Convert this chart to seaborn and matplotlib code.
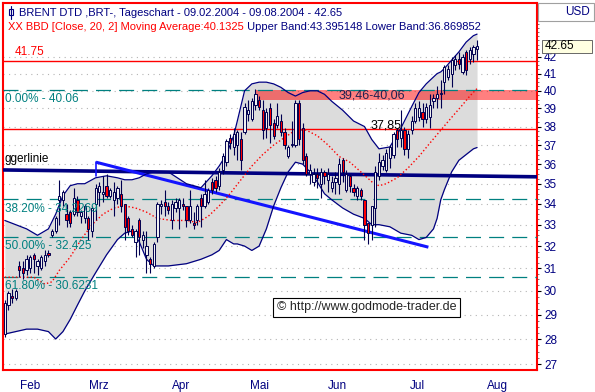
import numpy as np
import pandas as pd
import matplotlib
matplotlib.use('Agg')
import matplotlib.pyplot as plt
import seaborn as sns
from matplotlib.lines import Line2D
from matplotlib.patches import Rectangle
from matplotlib.ticker import FixedLocator, NullFormatter

# Trading days on the x axis (candles are placed by day index, no weekend gaps)
days = pd.bdate_range('2004-02-09', '2004-08-31')

# Daily candles 09.02.2004 - 09.08.2004
opens = [28.2, 29.4, 29.8, 29.7, 31.1, 31.0, 30.9, 31.0, 31.6, 31.1,
         31.0, 31.3, 31.7, 32.5, 32.7, 34.2, 34.2, 33.5, 33.6, 33.5,
         34.2, 33.4, 33.3, 33.3, 32.7, 34.0, 34.6, 34.5, 34.9, 34.4,
         34.2, 34.3, 34.5, 34.0, 33.3, 32.8, 32.2, 33.2, 32.3, 31.6,
         31.4, 31.1, 32.4, 33.9, 34.1, 33.9, 33.2, 33.8, 33.8, 34.0,
         33.9, 33.2, 33.1, 33.2, 34.3, 33.9, 34.1, 35.1, 35.2, 34.9,
         35.7, 36.1, 37.4, 36.9, 37.0, 37.3, 37.7, 38.7, 38.4, 39.2,
         39.5, 38.9, 37.9, 39.0, 38.2, 38.1, 38.3, 37.7, 36.4, 37.0,
         37.0, 39.3, 37.9, 36.4, 35.5, 35.1, 35.5, 35.0, 35.6, 35.2,
         34.8, 35.1, 35.0, 36.2, 34.7, 35.4, 34.8, 34.4, 34.7, 34.2,
         33.1, 33.0, 33.8, 35.4, 35.9, 35.7, 36.3, 36.5, 37.8, 37.4,
         37.8, 36.8, 37.8, 38.3, 38.5, 38.8, 38.4, 38.5, 39.4, 39.6,
         39.8, 40.5, 40.8, 41.0, 41.5, 41.9, 41.1, 42.3, 41.9, 42.2,
         42.5]
highs = [29.6, 30.0, 30.1, 30.1, 31.3, 31.3, 31.6, 31.6, 31.7, 31.4,
         31.6, 31.8, 31.8, 32.8, 33.4, 35.2, 34.7, 34.0, 33.7, 34.8,
         34.4, 33.7, 34.0, 33.4, 33.9, 35.0, 35.1, 35.4, 35.5, 34.8,
         35.1, 34.9, 35.2, 34.0, 33.4, 33.0, 32.8, 33.3, 32.7, 32.7,
         31.5, 32.2, 34.1, 34.2, 34.7, 34.1, 34.2, 34.3, 34.3, 34.3,
         33.9, 34.7, 33.6, 34.0, 34.5, 35.2, 34.8, 35.3, 35.4, 35.8,
         36.6, 37.3, 37.6, 37.9, 37.8, 37.7, 39.3, 39.5, 39.6, 40.1,
         39.7, 39.5, 39.0, 39.3, 38.4, 39.3, 38.7, 37.9, 37.0, 38.3,
         39.5, 39.5, 38.2, 36.6, 36.0, 35.8, 35.8, 35.8, 35.7, 35.8,
         35.4, 35.6, 36.3, 36.3, 35.7, 35.5, 35.0, 34.9, 34.8, 34.2,
         33.1, 33.9, 35.9, 36.6, 36.5, 36.8, 37.0, 37.7, 37.9, 38.9,
         38.0, 37.8, 38.6, 39.3, 39.4, 39.3, 39.3, 39.8, 39.8, 40.3,
         40.6, 41.5, 41.5, 42.0, 42.1, 42.3, 42.2, 42.4, 42.6, 42.7,
         43.0]
lows = [28.1, 29.2, 29.5, 29.6, 30.6, 30.5, 30.7, 30.8, 30.8, 30.7,
        30.9, 31.1, 31.5, 32.4, 32.6, 33.0, 33.9, 32.9, 32.9, 33.4,
        33.4, 33.1, 33.1, 32.3, 32.4, 33.2, 33.9, 34.1, 34.3, 34.3,
        33.4, 34.0, 33.6, 32.3, 32.5, 32.4, 31.5, 31.6, 31.9, 30.8,
        30.8, 31.0, 32.2, 33.5, 33.4, 33.5, 32.8, 33.6, 32.8, 33.7,
        32.9, 33.1, 32.8, 33.0, 32.9, 33.8, 34.0, 34.5, 34.6, 34.7,
        35.5, 35.9, 36.8, 36.5, 36.2, 35.7, 37.6, 38.3, 38.3, 38.9,
        38.9, 37.3, 37.4, 37.1, 37.3, 37.9, 37.5, 36.8, 36.3, 36.9,
        36.9, 37.0, 36.0, 35.4, 35.0, 34.9, 34.8, 34.3, 35.0, 34.6,
        34.6, 34.5, 34.5, 35.1, 34.6, 34.6, 34.4, 34.2, 34.2, 32.3,
        32.1, 32.3, 32.9, 35.2, 35.7, 35.6, 35.8, 36.3, 36.9, 36.9,
        36.5, 36.3, 37.6, 38.2, 38.3, 38.0, 38.2, 37.9, 39.0, 39.0,
        39.0, 39.8, 40.6, 40.2, 41.2, 41.3, 41.0, 40.9, 41.6, 41.7,
        41.8]
closes = [29.5, 29.9, 29.7, 30.0, 30.9, 30.8, 31.4, 31.5, 31.4, 31.3,
          31.5, 31.6, 31.6, 32.7, 33.3, 34.4, 34.6, 33.2, 33.1, 34.3,
          33.6, 33.6, 33.9, 32.8, 33.8, 34.8, 34.9, 34.6, 34.4, 34.7,
          34.6, 34.8, 33.9, 32.9, 32.7, 32.5, 32.7, 32.4, 32.5, 32.0,
          31.2, 32.1, 34.0, 34.0, 33.9, 33.7, 34.0, 34.1, 34.2, 33.9,
          33.2, 33.9, 33.0, 33.9, 33.9, 34.5, 34.7, 34.7, 34.8, 35.6,
          36.4, 37.2, 37.1, 37.6, 37.7, 36.2, 39.1, 38.9, 39.4, 39.8,
          39.1, 37.8, 38.8, 38.1, 37.5, 38.6, 37.7, 37.0, 36.9, 37.0,
          39.3, 37.3, 36.2, 35.5, 35.7, 35.5, 35.3, 35.6, 35.4, 35.5,
          35.1, 35.3, 36.0, 35.6, 35.5, 34.9, 34.6, 34.8, 34.4, 33.0,
          32.6, 33.9, 35.6, 36.1, 36.2, 36.6, 36.9, 37.6, 37.3, 37.8,
          36.8, 37.6, 38.3, 39.0, 39.0, 38.4, 39.1, 39.2, 39.6, 39.8,
          39.9, 41.4, 41.3, 41.8, 41.9, 41.6, 42.0, 41.2, 42.4, 42.6,
          42.65]

# Bollinger bands (20, 2), sampled along the chart
band_day = [0, 3, 6, 9, 12, 14, 16, 18, 20, 22, 25, 28, 31, 33, 35, 37, 39, 41, 45, 50,
            54, 57, 59, 61, 63, 64, 66, 68, 70, 72, 74, 76, 78, 80, 82, 84, 86, 88, 90, 93,
            96, 99, 101, 103, 106, 109, 112, 114, 116, 118, 119, 120, 121, 123, 125, 127, 129, 130]
upper_band = [33.2, 33.0, 32.8, 32.5, 32.8, 33.5, 34.4, 34.9, 35.0, 35.0,
              35.3, 35.4, 35.3, 35.2, 35.2, 35.3, 35.5, 35.6, 35.6, 35.0,
              34.8, 35.4, 35.9, 36.5, 37.5, 38.3, 40.0, 40.4, 40.5, 40.5,
              40.4, 40.2, 39.9, 39.7, 39.9, 40.0, 40.0, 39.8, 39.4, 38.9,
              38.3, 38.0, 37.3, 36.8, 36.9, 37.9, 39.1, 39.9, 40.4, 40.8,
              41.0, 41.1, 41.3, 41.8, 42.3, 42.9, 43.3, 43.395]
lower_band = [28.2, 28.3, 28.4, 28.4, 28.3, 28.0, 28.3, 28.8, 29.4, 30.0,
              30.8, 31.6, 32.3, 32.6, 32.7, 32.2, 31.4, 31.1, 31.1, 31.2,
              31.4, 31.6, 31.8, 32.3, 32.1, 32.1, 32.0, 31.8, 32.0, 32.8,
              33.9, 34.8, 35.6, 36.1, 36.0, 35.6, 35.1, 34.5, 34.2, 33.8,
              33.5, 33.3, 33.0, 33.0, 32.9, 32.6, 32.5, 32.3, 32.4, 32.8,
              33.3, 34.2, 34.7, 35.6, 36.2, 36.5, 36.8, 36.87]

# Moving average (middle band)
ma_day = [0, 5, 8, 11, 13, 15, 18, 21, 24, 27, 30, 33, 36, 39, 42, 46, 50, 53, 56, 59,
          62, 65, 68, 71, 74, 77, 80, 83, 86, 89, 92, 95, 98, 101, 103, 105, 108, 111, 114, 117,
          120, 123, 126, 128, 130]
ma_value = [30.6, 30.6, 30.6, 30.3, 30.4, 30.9, 31.5, 32.3, 33.0, 33.5,
            33.8, 33.9, 33.8, 33.6, 33.3, 33.2, 33.2, 33.1, 33.4, 33.9,
            34.5, 35.2, 35.9, 36.5, 37.0, 37.4, 37.8, 37.8, 37.5, 37.0,
            36.4, 36.1, 35.6, 35.1, 34.9, 35.0, 35.3, 35.8, 36.4, 37.1,
            37.8, 38.5, 39.2, 39.7, 40.13]

# Drawn analysis lines
fib_levels = [40.06, 34.2269, 32.425, 30.6231]
fib_labels = ['0.00% - 40.06', '38.20% - 34.2269', '50.00% - 32.425', '61.80% - 30.6231']
red_levels = [41.75, 37.85]
zone_low, zone_high = 39.46, 40.06
zone_start = 69.2
trigger_value = [35.7, 35.35]
trend_day = [25.1, 116.6]
trend_value = [36.1, 31.95]
price_ticks = list(range(27, 43))
month_names = ['Feb', 'Mrz', 'Apr', 'Mai', 'Jun', 'Jul', 'Aug']
last_price = 42.65

navy = '#000080'
teal = '#008080'

sns.set_style('white')
plt.rcParams['font.family'] = ['Liberation Sans', 'DejaVu Sans']

fig = plt.figure(figsize=(5.95, 3.92), dpi=100)
ax = fig.add_axes([3 / 595, 22 / 392, 534 / 595, 367 / 392])
ax.set_yscale('log')
x_end = len(days) - 0.5

# dotted price grid
for p in price_ticks:
    ax.axhline(p, color='#b4b4b4', lw=0.8, ls=(0, (1, 4)), zorder=0)

# bollinger area
ax.fill_between(band_day, lower_band, upper_band, color='#dcdcdc', lw=0, zorder=1)

# resistance zone 39,46-40,06
ax.fill_between([zone_start, x_end], zone_low, zone_high, color='red', alpha=0.5, lw=0, zorder=2)
ax.text(91.8, 39.72, '39,46-40,06', color='#202050', fontsize=9, va='center', zorder=9)

# fibonacci retracements
for lev, lab in zip(fib_levels, fib_labels):
    ax.axhline(lev, color=teal, lw=0.9, ls=(0, (12, 6.5)), zorder=3)
    ax.annotate(lab, xy=(0.004, lev), xycoords=('axes fraction', 'data'),
                xytext=(0, -2.5), textcoords='offset points',
                color=teal, fontsize=8.5, va='top', ha='left', zorder=9)

# red horizontal marks
for lev in red_levels:
    ax.axhline(lev, color='red', lw=1, zorder=4)
ax.annotate('41.75', xy=(0.0225, 41.75), xycoords=('axes fraction', 'data'),
            xytext=(0, 2), textcoords='offset points', color='red', fontsize=8.5,
            va='bottom', ha='left')
ax.text(100.6, 38.05, '37,85', color='black', fontsize=9, va='center', ha='left', zorder=9)

# Triggerlinie (its start is cut off by the chart edge in the original)
ax.plot([-0.5, x_end], trigger_value, color=navy, lw=2.6, solid_capstyle='butt', zorder=5)
ax.annotate('ggerlinie', xy=(0.0, 36.25), xycoords=('axes fraction', 'data'),
            xytext=(1, 0), textcoords='offset points',
            color='black', fontsize=8.5, va='center', ha='left', zorder=9)

# downtrend line
ax.plot([trend_day[0], trend_day[0]], [35.4, trend_value[0]], color='#1414ff', lw=1.2, zorder=5)
ax.plot(trend_day, trend_value, color='#1414ff', lw=2.2, solid_capstyle='butt', zorder=5)

# bands and moving average
sns.lineplot(x=band_day, y=upper_band, color=navy, lw=0.9, ax=ax, zorder=6)
sns.lineplot(x=band_day, y=lower_band, color=navy, lw=0.9, ax=ax, zorder=6)
sns.lineplot(x=ma_day, y=ma_value, color='red', lw=1, linestyle=':', ax=ax, zorder=6)

# candles
o = np.array(opens)
c = np.array(closes)
xi = np.arange(len(c))
ax.vlines(xi, lows, highs, color='#000050', lw=0.8, zorder=7)
up = c >= o
bottoms = np.minimum(o, c)
heights = np.maximum(np.abs(c - o), 0.06)
ax.bar(xi[up], heights[up], bottom=bottoms[up], width=0.62, facecolor='#f0f0f0',
       edgecolor='#000050', lw=0.7, zorder=8)
ax.bar(xi[~up], heights[~up], bottom=bottoms[~up], width=0.62, facecolor='#ff0000',
       edgecolor='#000050', lw=0.7, zorder=8)

# watermark
ax.text(99.5, 29.3, '\u00a9 http://www.godmode-trader.de', fontsize=9, ha='center', va='center',
        bbox=dict(boxstyle='square,pad=0.3', fc='white', ec='black', lw=0.8), zorder=10)

# axes
ax.set_xlim(-0.5, x_end)
ax.set_ylim(26.78, 45.38)
ax.yaxis.tick_right()
ax.yaxis.set_major_locator(FixedLocator(price_ticks))
ax.set_yticklabels([str(p) for p in price_ticks])
ax.yaxis.set_minor_locator(FixedLocator(np.arange(27, 45.01, 0.25)))
ax.yaxis.set_minor_formatter(NullFormatter())
ax.tick_params(axis='y', which='major', direction='out', length=3, width=0.8, color='black',
               labelsize=8.5, labelcolor=navy, pad=2)
ax.tick_params(axis='y', which='minor', direction='out', length=1.2, width=0.6, color='#606060')

idx = pd.Series(np.arange(len(days)), index=days)
month_first = idx.groupby(days.month).min().values
month_mid = idx.groupby(days.month).mean().values
ax.set_xticks(month_first[1:] - 0.5)
ax.set_xticklabels([])
ax.set_xticks(month_mid, minor=True)
ax.set_xticklabels(month_names, minor=True)
ax.tick_params(axis='x', which='major', direction='out', length=5, width=0.8, color='#404040')
ax.tick_params(axis='x', which='minor', length=0, labelsize=8.5, labelcolor=navy, pad=7)
ax.set_xlabel('')
ax.set_ylabel('')
for s in ax.spines.values():
    s.set_color('red')
    s.set_linewidth(1.5)

# header text
fig.add_artist(Line2D([11 / 595, 11 / 595], [1 - 6 / 392, 1 - 19 / 392], color=navy, lw=0.8))
fig.add_artist(Rectangle((9 / 595, 1 - 15 / 392), 4 / 595, 6 / 392, fc='white', ec=navy, lw=0.8))
fig.text(19 / 595, 1 - 12.5 / 392, 'BRENT DTD ,BRT-, Tageschart - 09.02.2004 - 09.08.2004 - 42.65',
         color=navy, fontsize=8, va='center')
t1 = fig.text(8 / 595, 1 - 27.5 / 392, 'XX BBD [Close, 20, 2] Moving Average:40.1325',
              color='red', fontsize=8, va='center')
ax.annotate(' Upper Band:43.395148 Lower Band:36.869852', xy=(1, 0.5), xycoords=t1,
            va='center', ha='left', color=navy, fontsize=8)

# USD box and last price marker on the right
fig.add_artist(Rectangle((538 / 595, 1 - 21 / 392), 56 / 595, 18 / 392, fc='white',
                         ec='#a0a0a0', lw=0.8))
fig.text(590 / 595, 1 - 12 / 392, 'USD', color=navy, fontsize=8.5, ha='right', va='center')
fig.canvas.draw()
y_last = fig.transFigure.inverted().transform(ax.transData.transform((0, last_price)))[1]
fig.add_artist(Rectangle((542 / 595, y_last - 6.5 / 392), 50 / 595, 13 / 392, fc='#ffffe1',
                         ec='#505050', lw=0.6))
fig.text(545 / 595, y_last, '42.65', color='black', fontsize=8.5, va='center', ha='left')

fig.savefig('out.png', dpi=100)
